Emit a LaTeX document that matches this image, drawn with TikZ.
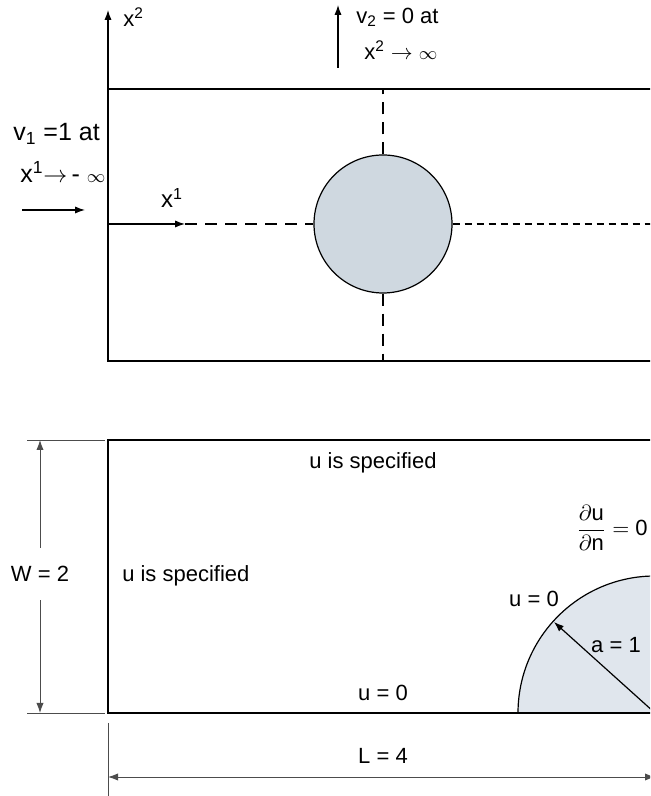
\documentclass[tikz,border=0pt]{standalone}
\usepackage{fontspec}
\usepackage{amsmath}
\setmainfont{Liberation Sans}
\usetikzlibrary{arrows.meta}
\definecolor{cylgray}{RGB}{207,216,224}
\definecolor{holegray}{RGB}{224,230,237}
\begin{document}
\begin{tikzpicture}[x=0.5pt, y=0.5pt, font=\fontsize{11}{13}\selectfont, line width=0.6pt,
  >={Latex[length=5pt,width=3.6pt]},
  longdash/.style={dash pattern=on 6pt off 4pt},
  shortdash/.style={dash pattern=on 3.5pt off 2.5pt},
  dimline/.style={draw=black!70, line width=0.45pt}]
\useasboundingbox (0,0) rectangle (650,796);
\clip (0,0) rectangle (650,796);
% flow past a cylinder
\coordinate (topSW) at (108,435); \coordinate (topNE) at (700,707);
\draw (topSW) rectangle (topNE);
\node[circle, draw, fill=cylgray, minimum size=69pt, inner sep=0pt] (cyl) at (383,572) {};
\draw[longdash] (cyl.north) -- (cyl.north |- topNE);
\draw[longdash] (cyl.south) -- (cyl.south |- topSW);
\coordinate (orig) at (108,572);
\draw[->] (orig) -- ++(77,0) coordinate (x1tip);
\draw[longdash] (x1tip) -- (cyl.west);
\draw[shortdash] (cyl.east) -- (700,572);
\node (x1lab) at (172,598) {\fontsize{12}{14}\selectfont x\textsuperscript{1}};
\coordinate (x2tip) at (108,786);
\draw[->] (topSW |- topNE) -- (x2tip);
\node[anchor=west] (x2lab) at (116,779) {x\textsuperscript{2}};
\coordinate (v2foot) at (338,728); \coordinate (v2tip) at (338,791);
\draw[->] (v2foot) -- (v2tip);
\node[anchor=west] (v2lab) at (349,779) {v\textsubscript{2} = 0 at};
\node[anchor=west] (x2inf) at (357,746) {x\textsuperscript{2} $\rightarrow$ {\small$\infty$}};
\node[anchor=west, font=\fontsize{12.5}{14}\selectfont] (v1lab) at (6,662) {v\textsubscript{1} =1 at};
\node[anchor=west, font=\fontsize{12.5}{14}\selectfont] (x1inf) at (13,624) {x\textsuperscript{1}$\rightarrow$\,- {\small$\infty$}};
\coordinate (inA) at (22,586); \coordinate (inB) at (85,586);
\draw[->] (inA) -- (inB);
% quarter model with boundary conditions
\coordinate (botSW) at (108,83); \coordinate (botNE) at (655,356);
\coordinate (hc) at (655,83);
\draw[fill=holegray] (hc) ++(-137,0) arc[start angle=180, end angle=0, radius=137];
\draw (botSW) rectangle (botNE);
\draw[->] (hc) -- ++(138:136) coordinate (rtip);
\node (alab) at (616,151) {a = 1};
\node (uhole) at (534,197) {u = 0};
\node (ubot) at (383,103) {u = 0};
\node (utop) at (373,333) {u is specified};
\node[anchor=west] (uleft) at (115,220) {u is specified};
\node (dudn) at (612,268) {$\dfrac{\partial\text{u}}{\partial\text{n}} = \text{0}$};
\foreach \y in {83,356} {\draw[dimline] (27,\y) -- (105,\y);}
\coordinate (wT) at (40,356); \coordinate (wB) at (40,83);
\node[inner ysep=9pt] (wlab) at (40,222) {W = 2};
\draw[dimline, ->] (wlab) -- (wT);
\draw[dimline, ->] (wlab) -- (wB);
\draw[dimline] (108,73) -- (108,0);
\coordinate (lA) at (108,19); \coordinate (lB) at (655,19);
\draw[dimline, <->] (lA) -- (lB);
\node (llab) at (383,40) {L = 4};
\end{tikzpicture}
\end{document}
